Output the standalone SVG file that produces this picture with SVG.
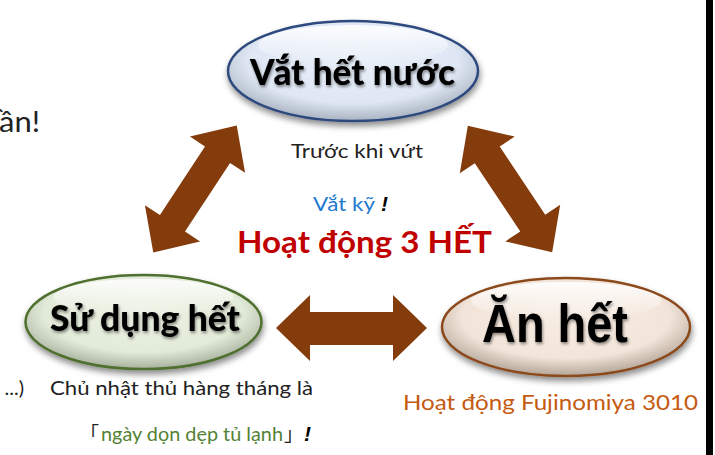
<svg xmlns="http://www.w3.org/2000/svg" width="715" height="455" viewBox="0 0 715 455">
<defs>
<style>
.t{font-family:Lato,"Noto Sans",sans-serif;}
.lbl{font-family:Lato,"Noto Sans",sans-serif;font-weight:900;fill:#000;}
.arr{fill:#843c0c;}
.ex{font-family:"Liberation Sans",sans-serif;font-weight:700;font-style:italic;fill:#000;}
</style>
<radialGradient id="gB" cx="50%" cy="40%" r="60%">
<stop offset="0" stop-color="#e8eff9"/><stop offset="0.7" stop-color="#dfe7f4"/><stop offset="1" stop-color="#a9b2c0"/>
</radialGradient>
<radialGradient id="gG" cx="50%" cy="40%" r="60%">
<stop offset="0" stop-color="#ecf2e4"/><stop offset="0.7" stop-color="#e2ead8"/><stop offset="1" stop-color="#a8b09e"/>
</radialGradient>
<radialGradient id="gR" cx="50%" cy="40%" r="60%">
<stop offset="0" stop-color="#f8ede4"/><stop offset="0.7" stop-color="#f2e4d8"/><stop offset="1" stop-color="#b3a699"/>
</radialGradient>
<linearGradient id="hl" x1="0" y1="0" x2="0" y2="1">
<stop offset="0" stop-color="#fff" stop-opacity="0.9"/><stop offset="1" stop-color="#fff" stop-opacity="0"/>
</linearGradient>
<filter id="sh" x="-20%" y="-20%" width="140%" height="150%">
<feDropShadow dx="1" dy="4" stdDeviation="3" flood-color="#000" flood-opacity="0.45"/>
</filter>
<filter id="tsh" x="-10%" y="-20%" width="120%" height="150%">
<feDropShadow dx="1" dy="2" stdDeviation="1.5" flood-color="#000" flood-opacity="0.45"/>
</filter>
<polygon id="dbl" points="-76,0 -41,-33 -41,-15 41,-15 41,-33 76,0 41,33 41,15 -41,15 -41,33"/>
</defs>
<rect width="715" height="455" fill="#fff"/>
<rect x="706" y="0" width="7" height="455" fill="#000"/>

<text class="t" x="-1" y="132" font-size="28" fill="#222" textLength="41" lengthAdjust="spacingAndGlyphs">ần!</text>
<text class="t" x="24" y="395" font-size="20" fill="#222" text-anchor="end">...)</text>

<g id="connectors" class="arr">
<use href="#dbl" transform="translate(195,189) rotate(-56.7)"/>
<use href="#dbl" transform="translate(510,189) rotate(56.3)"/>
<polygon points="276,328 310,295 310,312 393,312 393,295 427,328 393,361 393,345 310,345 310,361"/>
</g>

<g id="n-top">
<ellipse cx="353" cy="71" rx="125" ry="50" fill="url(#gB)" stroke="#2e4a7e" stroke-width="2.5" filter="url(#sh)"/>
<ellipse cx="353" cy="45" rx="95" ry="20" fill="url(#hl)"/>
<text class="lbl" x="250" y="85" font-size="36" textLength="205" lengthAdjust="spacingAndGlyphs" filter="url(#tsh)">Vắt hết nước</text>
</g>

<g id="n-left">
<ellipse cx="143.5" cy="322" rx="118" ry="47" fill="url(#gG)" stroke="#4f6f2f" stroke-width="2.5" filter="url(#sh)"/>
<ellipse cx="143.5" cy="297" rx="90" ry="18" fill="url(#hl)"/>
<text class="lbl" x="50" y="331" font-size="36" textLength="190" lengthAdjust="spacingAndGlyphs" filter="url(#tsh)">Sử dụng hết</text>
</g>

<g id="n-right">
<ellipse cx="566" cy="327" rx="124" ry="49" fill="url(#gR)" stroke="#8b4a1c" stroke-width="2.5" filter="url(#sh)"/>
<ellipse cx="566" cy="301" rx="95" ry="19" fill="url(#hl)"/>
<text x="482" y="342" font-family="'Liberation Sans',sans-serif" font-weight="700" font-size="54" fill="#000" textLength="146" lengthAdjust="spacingAndGlyphs" filter="url(#tsh)">Ăn hết</text>
</g>

<text class="t" x="291" y="158" font-size="20" fill="#222" textLength="132" lengthAdjust="spacingAndGlyphs">Trước khi vứt</text>
<text class="t" x="313" y="211" font-size="19" fill="#1f7ad0" textLength="62" lengthAdjust="spacingAndGlyphs">Vắt kỹ</text>
<text class="ex" x="381" y="211" font-size="21">!</text>
<text class="t" x="237" y="253" font-size="31" font-weight="700" fill="#c00000" textLength="255" lengthAdjust="spacingAndGlyphs">Hoạt động 3 HẾT</text>
<text class="t" x="50" y="395" font-size="20" fill="#222" textLength="263" lengthAdjust="spacingAndGlyphs">Chủ nhật thủ hàng tháng là</text>
<text x="80" y="441" font-size="19" fill="#222" font-family="'Noto Sans CJK JP',sans-serif">「</text>
<text class="t" x="101" y="441" font-size="20" fill="#548235" textLength="182" lengthAdjust="spacingAndGlyphs">ngày dọn dẹp tủ lạnh</text>
<text x="284" y="441" font-size="19" fill="#222" font-family="'Noto Sans CJK JP',sans-serif">」</text>
<text class="ex" x="304" y="441" font-size="21">!</text>
<text class="t" x="403" y="410" font-size="21" fill="#c55a11" textLength="295" lengthAdjust="spacingAndGlyphs">Hoạt động Fujinomiya 3010</text>
</svg>
